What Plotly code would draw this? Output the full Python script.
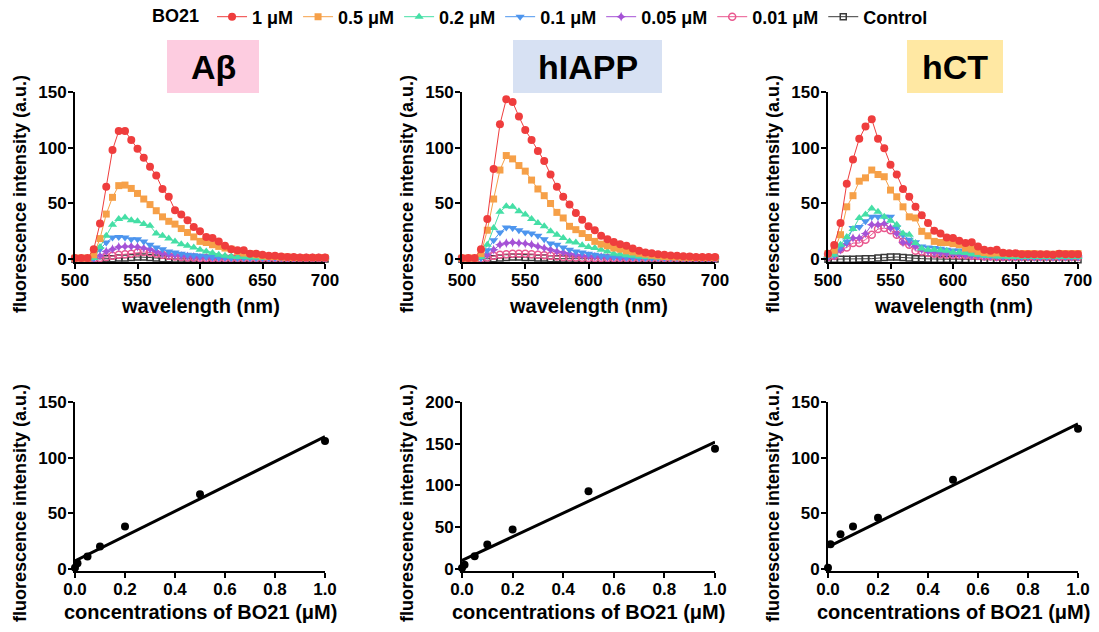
import numpy as np
import plotly.graph_objects as go

W, H = 1099, 632

# ---------------- data ----------------
wavelength = list(range(500, 705, 5))  # nm, 41 points

series_names = ["1 μM", "0.5 μM", "0.2 μM", "0.1 μM", "0.05 μM", "0.01 μM", "Control"]

abeta_1 = [1,1,1,9,32,65,98,115,115,107, 99,91,83,75,63,56,44,40,35,29, 25,20,19,16,12,9,8,8,5,5, 4,3,3,2.5,2,2,1.5,1.5,1.5,1.5,1.5]
abeta_05 = [1,1,1,4,18.5,40.5,55.5,66,66.5,63.5, 59,54,49,43.5,38,34,31.5,27.5,24,20, 16,15,13,11.5,10,9,7,5.5,5,4, 3,2.5,2.5,2,2,1.5,1.5,1.5,1.5,1.5,1.5]
abeta_02 = [0.5,0.5,0.5,1,11,21,31,36,37.5,35, 34,31.5,30,23,21,18.5,16,13.5,12,10.5, 8.5,7,5.5,4,3,2.5,2,2,1.5,1.5, 1,1,1,1,1,1,1,1,1,1,1]
abeta_01 = [0.5,0.5,0.5,1,9,15,19.5,20,19.5,18, 18,16,13,10.5,9,7,6,5,4,3.5, 3,2.5,2,1.5,1.5,1,1,1,1,1, 1,1,1,1,1,1,1,1,1,1,1]
abeta_005 = [0.3,0.3,0.3,0.5,3,7,9,11,11.5,11.5, 11,10,9,7,5,4,3.5,3,2.5,2, 1.5,1.5,1,1,1,1,1,1,1,1, 1,1,1,1,1,1,1,1,1,1,1]
abeta_001 = [0.3,0.3,0.3,0.3,1,2,3,4,4.5,5, 6,6.5,6,5,4,3,2.5,2,1.5,1.5, 1,1,1,1,1,1,1,1,1,1, 1,1,1,1,1,1,1,1,1,1,1]
abeta_ctrl = [0,0,0,0,0.3,0.5,0.5,1,1,1.5, 2,2,1.5,1,0.5,0.5,0.3,0.3,0.3,0.3, 0.2,0.2,0.2,0.2,0.2,0.2,0.2,0.2,0.2,0.2, 0.2,0.2,0.2,0.2,0.2,0.2,0.2,0.2,0.2,0.2,0.2]

hiapp_1 = [1,1,1,9,36,81,121,143.5,141,128, 116,107,97,88,76,65,56,49,41.5,35.5, 29.5,26,21,18,15.5,13.5,12,9.5,7.5,6, 5.3,4.5,4,3.3,3,2.7,2.4,2,2,2,2]
hiapp_05 = [1,1,1,5,26,54,80,93,90,84, 79,71,63,57,50,42,37,29.5,26.5,23, 19.5,16,13.5,12,10,9,7.5,6.5,5.3,4.5, 3.6,3,2.5,2.2,2,1.8,1.6,1.5,1.5,1.5,1.5]
hiapp_02 = [0.5,0.5,0.5,2,13,28,42.5,47.5,47,43, 40,36,32.5,29.5,25,22,19,16,15,12.5, 11,10,8.5,7,5,4.5,3.5,3,2.5,2, 1.8,1.5,1.5,1.2,1.2,1,1,1,1,1,1]
hiapp_01 = [0.5,0.5,0.5,1,8,17,24,28.5,28,26, 24,23,21,18,14,13,10.5,8.5,7,6, 5,4,3,2.5,2,2,1.5,1.5,1.2,1.2, 1,1,1,1,1,1,1,1,1,1,1]
hiapp_005 = [0.3,0.3,0.3,1,4,8.5,13,14.5,15,14.5, 14,13,11.5,10,8.5,7,6,5,4,3.3, 2.7,2.2,2,1.5,1.5,1.2,1.2,1,1,1, 1,1,1,1,1,1,1,1,1,1,1]
hiapp_001 = [0.3,0.3,0.3,0.5,1.5,3,4,4.5,5,5, 5,4.5,4,3.5,3,2.5,2,1.8,1.5,1.3, 1.2,1,1,1,1,1,1,1,1,1, 1,1,1,1,1,1,1,1,1,1,1]
hiapp_ctrl = [0,0,0,0,0.3,0.5,1,1.5,2,2, 1.5,1.5,1,1,0.5,0.5,0.3,0.3,0.3,0.3, 0.2,0.2,0.2,0.2,0.2,0.2,0.2,0.2,0.2,0.2, 0.2,0.2,0.2,0.2,0.2,0.2,0.2,0.2,0.2,0.2,0.2]

hct_1 = [5,12.8,32.5,67.7,89.5,108,119,125.5,108,99.5, 84.7,76,63,56,47,39.5,32.5,25.5,23,19.5, 19,16.5,14.5,15.3,11.4,8.5,7.5,8.5,5.7,5.3, 5.3,4.5,4.5,4.5,4.5,4.5,4,5,4.5,4.5,4.5]
hct_05 = [5,8,22,47,57,70,73,80,76,74, 62,56,47,38,37,25,21,16,15,15, 14,13,10,9,7,6,5.4,5.7,5.4,5, 5,5,5,5,4.5,4.5,4.5,5,5,5,5]
hct_02 = [3,4,13,20,27,37,40,45.5,42.5,38, 34.5,31,23,22,14.5,9.5,8.5,8.5,8,7.5, 6,6,5.5,4.5,4,3,3,2.5,2.5,2, 2,2,2,2,2,2,2,2,2,2,2]
hct_01 = [3,4,11,16,28,29,34,38,38,38, 38,28.5,22,17.5,15.3,11.5,10.5,10,9.3,8.5, 7.8,7.8,7,5.5,4.5,4,3.5,3,3,2.5, 2.5,2,2,2,2,2,2,2,2,2,2]
hct_005 = [2,3,8.5,14,19,19,23,31,31,32, 28,23,15,14,11.5,8.5,7,6,5.5,5, 4.5,4,3.5,3,3,2.5,2.5,2,2,2, 2,2,2,2,2,2,2,2,2,2,2]
hct_001 = [2,3,9,10.5,14.5,14.5,17.5,22,27,28, 26,22,16,13,7.5,7,5.5,5,4.5,4, 4,3.5,3.5,3,3,2.5,2.5,2,2,2, 2,2,2,2,2,2,2,2,2,2,2]
hct_ctrl = [0,0,0,0,0,0.3,0.5,0.5,1,1.5, 2,2,1.5,1,0.5,0.5,0.3,0,0,0, 0,0,-0.3,-0.3,-0.5,-0.5,-0.5,-0.5,-0.5,-0.5, -0.5,-0.5,-0.5,-0.5,-0.5,-0.5,-0.5,-0.5,-0.5,-0.5,-0.5]

concentrations = [0, 0.01, 0.05, 0.1, 0.2, 0.5, 1.0]
abeta_peak = [1, 5, 11, 20, 38, 67, 115]
hiapp_peak = [1, 5, 15, 29, 47, 93, 144]
hct_peak = [1, 22, 31, 38, 46, 80, 126]

panel_titles = ["Aβ", "hIAPP", "hCT"]
panel_colors = ["#FDCCE0", "#D7E1F3", "#FFE8A3"]

spectra = [
    [abeta_1, abeta_05, abeta_02, abeta_01, abeta_005, abeta_001, abeta_ctrl],
    [hiapp_1, hiapp_05, hiapp_02, hiapp_01, hiapp_005, hiapp_001, hiapp_ctrl],
    [hct_1, hct_05, hct_02, hct_01, hct_005, hct_001, hct_ctrl],
]
peaks = [abeta_peak, hiapp_peak, hct_peak]

# ---------------- styles ----------------
colors = ["#EF3D3D", "#F6A048", "#45DFA6", "#4D95EE", "#A552D6", "#E9578E", "#3A3A3A"]
symbols = ["circle", "square", "triangle-up", "triangle-down", "star-diamond", "circle-open", "square-open"]
msizes = [8, 7, 8, 8, 7, 7, 6]

FONT = "Liberation Sans, Arial, sans-serif"

cols_px = [(75, 325), (462, 715), (828, 1078)]
top_px = (92, 262)
bot_px = (402, 571)


def xd(a, b):
    return [a / W, b / W]


def yd(top, bottom):
    return [1 - bottom / H, 1 - top / H]


fig = go.Figure()
layout = dict(
    template="none",
    width=W, height=H,
    margin=dict(l=0, r=0, t=0, b=0, pad=0, autoexpand=False),
    paper_bgcolor="white", plot_bgcolor="white",
    font=dict(family=FONT, size=18, color="black", weight="bold"),
    showlegend=True,
    legend=dict(
        orientation="h", x=150 / W, xanchor="left", y=1 - 17 / H, yanchor="middle",
        font=dict(family=FONT, size=18, color="black", weight="bold"),
        title=dict(text="BO21 ", side="left", font=dict(family=FONT, size=18, color="black", weight="bold")),
        itemwidth=30, tracegroupgap=0, bgcolor="rgba(0,0,0,0)", borderwidth=0,
    ),
)
annotations = []
shapes = []

axis_common = dict(
    showline=True, linecolor="black", linewidth=2, mirror=False, automargin=False,
    ticks="outside", ticklen=5, tickwidth=2, tickcolor="black",
    showgrid=False, zeroline=False, fixedrange=True,
    tickfont=dict(family=FONT, size=17, color="black", weight="bold"),
)

for c in range(3):
    n_top = c + 1
    n_bot = c + 4
    xa_t = "x" if n_top == 1 else f"x{n_top}"
    ya_t = "y" if n_top == 1 else f"y{n_top}"
    xa_b = f"x{n_bot}"
    ya_b = f"y{n_bot}"
    layout["xaxis" if n_top == 1 else f"xaxis{n_top}"] = dict(
        axis_common, domain=xd(*cols_px[c]), anchor=ya_t, range=[500, 700],
        tickvals=[500, 550, 600, 650, 700], ticklabelstandoff=-3)
    layout["yaxis" if n_top == 1 else f"yaxis{n_top}"] = dict(
        axis_common, domain=yd(*top_px), anchor=xa_t, range=[-2.5, 150],
        tickvals=[0, 50, 100, 150], ticklabelstandoff=-2)
    ymax_b = 200 if c == 1 else 150
    layout[f"xaxis{n_bot}"] = dict(
        axis_common, domain=xd(*cols_px[c]), anchor=ya_b, range=[0, 1.0],
        tickvals=[0, 0.2, 0.4, 0.6, 0.8, 1.0], ticktext=["0.0", "0.2", "0.4", "0.6", "0.8", "1.0"],
        ticklabelstandoff=-3)
    layout[f"yaxis{n_bot}"] = dict(
        axis_common, domain=yd(*bot_px), anchor=xa_b, range=[-ymax_b * 2 / 152, ymax_b],
        tickvals=list(range(0, ymax_b + 1, 50)), ticklabelstandoff=-2)

    # spectra traces: draw control first so 1 µM is on top
    for i in reversed(range(7)):
        fig.add_trace(go.Scatter(
            x=wavelength, y=spectra[c][i], mode="lines+markers",
            name=series_names[i], legendgroup=series_names[i], legendrank=i + 1,
            showlegend=(c == 0),
            line=dict(color=colors[i], width=1),
            marker=dict(symbol=symbols[i], size=msizes[i], color=colors[i],
                        line=dict(color=colors[i], width=1.5 if "open" in symbols[i] else 0)),
            cliponaxis=False, xaxis=xa_t, yaxis=ya_t,
        ))

    # calibration: points + linear fit
    slope, intercept = np.polyfit(concentrations, peaks[c], 1)
    fx = [0.0, 1.0]
    fy = [intercept + slope * v for v in fx]
    fig.add_trace(go.Scatter(x=fx, y=fy, mode="lines", line=dict(color="black", width=3),
                             showlegend=False, xaxis=xa_b, yaxis=ya_b, cliponaxis=False))
    fig.add_trace(go.Scatter(x=concentrations, y=peaks[c], mode="markers",
                             marker=dict(color="black", size=8), showlegend=False,
                             xaxis=xa_b, yaxis=ya_b, cliponaxis=False))

    cx = (cols_px[c][0] + cols_px[c][1]) / 2
    annotations.append(dict(text="wavelength (nm)", x=cx / W, y=1 - 306 / H, xref="paper", yref="paper",
                            showarrow=False, xanchor="center", yanchor="middle",
                            font=dict(family=FONT, size=20, color="black", weight="bold")))
    annotations.append(dict(text="concentrations of BO21 (μM)", x=cx / W, y=1 - 612 / H, xref="paper", yref="paper",
                            showarrow=False, xanchor="center", yanchor="middle",
                            font=dict(family=FONT, size=20, color="black", weight="bold")))
    for yc in (194, 503):
        annotations.append(dict(text="fluorescence intensity (a.u.)", x=(cols_px[c][0] - 55) / W,
                                y=1 - yc / H, xref="paper", yref="paper", textangle=-90,
                                showarrow=False, xanchor="center", yanchor="middle",
                                font=dict(family=FONT, size=18, color="black", weight="bold")))

    box = [(167, 259), (513, 662), (907, 1003)][c]
    shapes.append(dict(type="rect", xref="paper", yref="paper", x0=box[0] / W, x1=box[1] / W,
                       y0=1 - 93 / H, y1=1 - 40 / H, fillcolor=panel_colors[c], line=dict(width=0), layer="below"))
    annotations.append(dict(text=panel_titles[c], x=(box[0] + box[1]) / 2 / W, y=1 - 66.5 / H,
                            xref="paper", yref="paper", showarrow=False, xanchor="center", yanchor="middle",
                            font=dict(family=FONT, size=34, color="black", weight="bold")))

layout["annotations"] = annotations
layout["shapes"] = shapes
fig.update_layout(**layout)
fig.write_html("out.html", config={"displayModeBar": False},
               post_script="document.body.style.margin='0px';document.body.style.overflow='hidden';")
